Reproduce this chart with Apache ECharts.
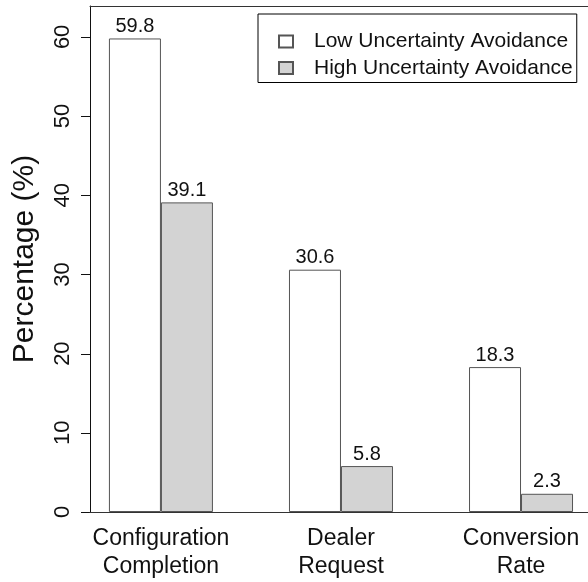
<!DOCTYPE html>
<html>
<head>
<meta charset="utf-8">
<script src="https://cdn.jsdelivr.net/npm/echarts@6/dist/echarts.min.js"></script>
<style>
  html, body { margin: 0; padding: 0; background: #fff; }
  #chart { width: 588px; height: 582px; }
</style>
</head>
<body>
<div id="chart"></div>
<script>
const categories = ['Configuration\nCompletion', 'Dealer\nRequest', 'Conversion\nRate'];
const lowUA = [59.8, 30.6, 18.3];
const highUA = [39.1, 5.8, 2.3];
const yTicks = [0, 10, 20, 30, 40, 50, 60];
const seriesNames = ['Low Uncertainty Avoidance', 'High Uncertainty Avoidance'];

const FONT = '"Liberation Sans", Arial, Helvetica, sans-serif';
const TEXT = '#111';
const Y_MAX = 63.9;
const PLOT_LEFT = 90;

const chart = echarts.init(document.getElementById('chart'));

function barSeries(name, values, fill) {
  return {
    name: name,
    type: 'bar',
    barWidth: 52,
    barGap: '0%',
    data: values.map((v, i) => [i, v]),
    itemStyle: { color: fill, borderColor: '#555', borderWidth: 1 },
    label: {
      show: true,
      position: 'top',
      distance: 2,
      fontFamily: FONT,
      fontSize: 20,
      color: TEXT,
      formatter: p => p.value[1]
    },
    emphasis: { disabled: true }
  };
}

chart.setOption({
  animation: false,
  backgroundColor: '#fff',
  grid: { left: PLOT_LEFT, right: 0, top: 6, bottom: 70 },
  legend: {
    orient: 'vertical',
    align: 'left',
    left: 258,
    top: 14,
    padding: [17, 4, 4, 20],
    itemGap: 5.5,
    itemWidth: 14,
    itemHeight: 12,
    borderColor: '#000',
    borderWidth: 1,
    icon: 'rect',
    textStyle: {
      fontFamily: FONT,
      fontSize: 21,
      lineHeight: 21,
      color: TEXT,
      padding: [0, 0, 0, 16]
    },
    data: seriesNames
  },
  xAxis: [{
    type: 'value',
    min: -0.394,
    max: 2.372,
    axisLine: { show: true, onZero: false, lineStyle: { color: '#333' } },
    axisTick: { show: false },
    splitLine: { show: false },
    axisLabel: {
      customValues: [0, 1, 2],
      formatter: v => categories[Math.round(v)],
      fontFamily: FONT,
      fontSize: 23,
      lineHeight: 28,
      color: TEXT,
      margin: 13
    }
  }, {
    // top edge of the plot frame
    type: 'value',
    position: 'top',
    min: -0.394,
    max: 2.372,
    axisLine: { show: true, onZero: false, lineStyle: { color: '#333' } },
    axisTick: { show: false },
    axisLabel: { show: false },
    splitLine: { show: false }
  }],
  yAxis: {
    type: 'value',
    min: 0,
    max: Y_MAX,
    interval: 10,
    name: 'Percentage (%)',
    nameLocation: 'middle',
    nameRotate: 90,
    nameGap: 50,
    nameTextStyle: { fontFamily: FONT, fontSize: 30, color: TEXT },
    axisLine: { show: true, onZero: false, lineStyle: { color: '#111' } },
    axisTick: { show: false },
    splitLine: { show: false },
    axisLabel: {
      showMaxLabel: false,
      formatter: v => (yTicks.indexOf(v) >= 0 ? String(v) : ''),
      rotate: 90,
      margin: 16,
      fontFamily: FONT,
      fontSize: 22,
      color: TEXT
    }
  },
  series: [
    barSeries(seriesNames[0], lowUA, '#ffffff'),
    barSeries(seriesNames[1], highUA, '#d3d3d3')
  ]
});

// outward tick marks on the y axis, placed through the axis scale
const tickLines = yTicks.map(t => {
  const y = Math.round(chart.convertToPixel({ yAxisIndex: 0 }, t)) + 0.5;
  return {
    type: 'line',
    silent: true,
    shape: { x1: PLOT_LEFT - 9, y1: y, x2: PLOT_LEFT, y2: y },
    style: { stroke: '#111', lineWidth: 1 }
  };
});
chart.setOption({ graphic: tickLines });
</script>
</body>
</html>
